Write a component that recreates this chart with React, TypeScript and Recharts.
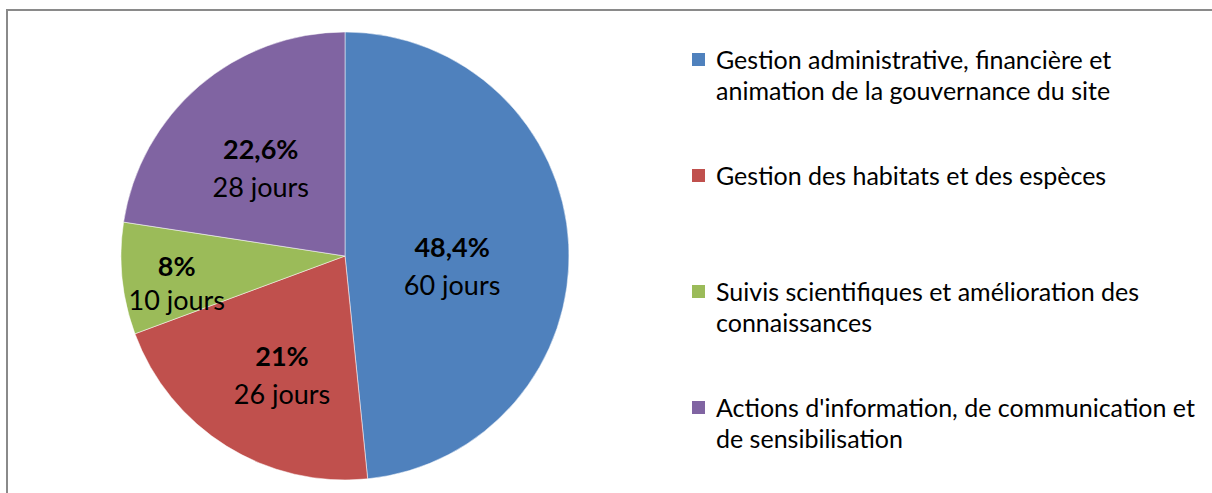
import { Legend, Pie, PieChart } from "recharts";

const CATEGORIES = [
  "Gestion administrative, financière et animation de la gouvernance du site",
  "Gestion des habitats et des espèces",
  "Suivis scientifiques et amélioration des connaissances",
  "Actions d'information, de communication et de sensibilisation",
];
const JOURS = [60, 26, 10, 28];
// Percentages as printed on the slices.
const PERCENT_LABELS = ["48,4%", "21%", "8%", "22,6%"];

// Excel 2007 default palette.
const COLORS = ["#4F81BD", "#C0504D", "#9BBB59", "#8064A2"];
// Excel's best-fit label spot: distance from the centre (fraction of the
// radius) and a small nudge off the slice's mid angle, in degrees.
const LABEL_FRACTION = [0.48, 0.6, 0.76, 0.545];
const LABEL_ANGLE_SHIFT = [-8, 4, 3, 3];

const FONT = "Lato, 'Open Sans', sans-serif";
const RAD = Math.PI / 180;

const rows = CATEGORIES.map((name, i) => ({
  name,
  value: JOURS[i],
  fill: COLORS[i],
}));

function SliceLabel(props: any) {
  const { cx, cy, midAngle, outerRadius, index, value } = props;
  const r = outerRadius * LABEL_FRACTION[index];
  const angle = midAngle + LABEL_ANGLE_SHIFT[index];
  const x = cx + r * Math.cos(-angle * RAD);
  const y = cy + r * Math.sin(-angle * RAD);
  const gap = index === 2 ? 17 : 19;
  return (
    <g fontFamily={FONT} fontSize={27} fill="#000" textAnchor="middle">
      <text x={x} y={y - gap} dominantBaseline="central" fontWeight={700}>
        {PERCENT_LABELS[index]}
      </text>
      <text x={x} y={y + gap} dominantBaseline="central">
        {`${value} jours`}
      </text>
    </g>
  );
}

function LegendList() {
  return (
    <div style={{ fontFamily: FONT, fontSize: 25, color: "#000" }}>
      {CATEGORIES.map((name, i) => (
        <div
          key={name}
          style={{ display: "flex", height: 116, alignItems: "flex-start" }}
        >
          <span
            style={{
              width: 13,
              height: 13,
              marginTop: 9,
              marginRight: 11,
              background: COLORS[i],
              flex: "none",
            }}
          />
          <span style={{ lineHeight: "31px", width: 492 }}>{name}</span>
        </div>
      ))}
    </div>
  );
}

export default function App() {
  return (
    <div
      style={{
        position: "fixed",
        left: 0,
        top: 0,
        width: 1212,
        height: 493,
        overflow: "hidden",
        background: "#fff",
      }}
    >
      <style>{`body{margin:0;overflow:hidden}`}</style>
      <div
        style={{
          position: "absolute",
          left: 6,
          top: 9,
          width: 1400,
          height: 700,
          border: "2px solid #8a8a8a",
        }}
      />
      <div style={{ position: "absolute", left: 0, top: 0 }}>
        <PieChart
          width={1212}
          height={493}
          margin={{ top: 0, right: 0, bottom: 0, left: 0 }}
        >
          <Pie
            data={rows}
            dataKey="value"
            nameKey="name"
            cx={345}
            cy={256}
            outerRadius={224}
            startAngle={90}
            endAngle={-270}
            stroke="#ffffff"
            strokeWidth={0.5}
            label={SliceLabel}
            labelLine={false}
            isAnimationActive={false}
          />
          <Legend
            content={LegendList}
            wrapperStyle={{ position: "absolute", left: 692, top: 44, width: 520 }}
          />
        </PieChart>
      </div>
    </div>
  );
}
